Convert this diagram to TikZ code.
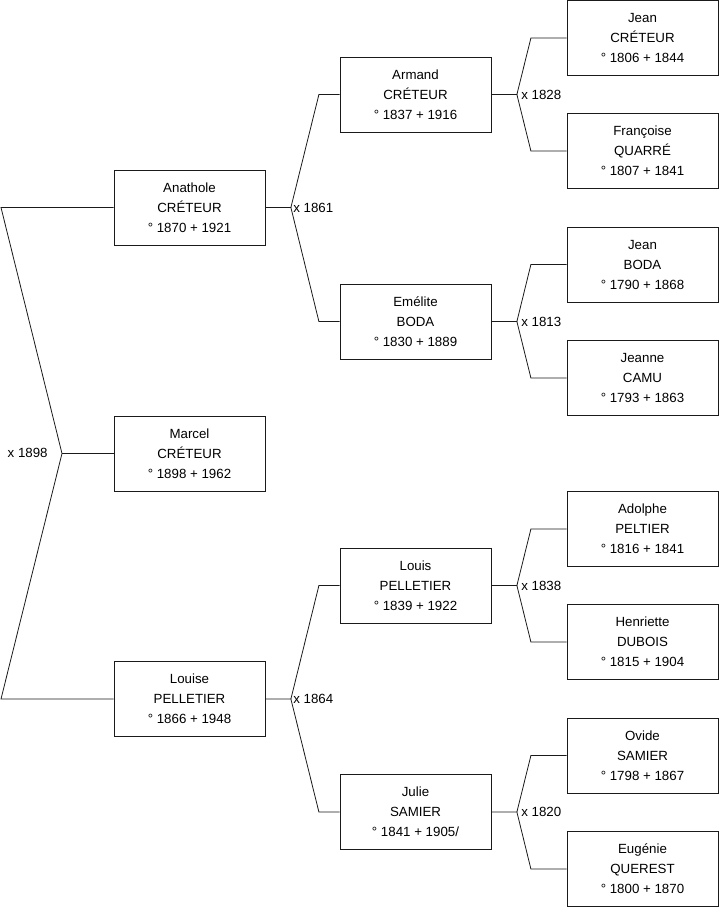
\documentclass[tikz,border=0pt]{standalone}
\usepackage{fontspec}
\setmainfont{Liberation Sans}
\usetikzlibrary{calc}
\definecolor{cline}{HTML}{1A1A1A}
\tikzset{
  every picture/.style={x=1pt, y=-1pt, line width=0.8pt},
  person/.style={draw=cline, align=center, minimum width=151pt, minimum height=75pt, inner sep=0pt, font=\fontsize{13.3}{20}\selectfont},
  link/.style={draw=cline, line width=0.8pt},
  wed/.style={font=\fontsize{13.3}{15}\selectfont, inner sep=2pt},
}

\begin{document}
\begin{tikzpicture}
  \useasboundingbox (0,0) rectangle (719,908);
  % root and parents
  \node[person] (marcel) at (189.5,453.5) {Marcel\\CRÉTEUR\\° 1898 + 1962};
  \node[person] (anathole) at (189.5,207.5) {Anathole\\CRÉTEUR\\° 1870 + 1921};
  \node[person] (louise) at (189.5,699) {Louise\\PELLETIER\\° 1866 + 1948};
  % grandparents
  \node[person] (armand) at (415.5,94.5) {Armand\\CRÉTEUR\\° 1837 + 1916};
  \node[person] (emelite) at (415.5,321.5) {Emélite\\BODA\\° 1830 + 1889};
  \node[person] (louis) at (415.5,585.5) {Louis\\PELLETIER\\° 1839 + 1922};
  \node[person] (julie) at (415.5,812) {Julie\\SAMIER\\° 1841 + 1905/};
  % great-grandparents
  \node[person] (jeanc) at (642.5,38) {Jean\\CRÉTEUR\\° 1806 + 1844};
  \node[person] (francoise) at (642.5,151) {Françoise\\QUARRÉ\\° 1807 + 1841};
  \node[person] (jeanb) at (642.5,264.5) {Jean\\BODA\\° 1790 + 1868};
  \node[person] (jeanne) at (642.5,378) {Jeanne\\CAMU\\° 1793 + 1863};
  \node[person] (adolphe) at (642.5,529) {Adolphe\\PELTIER\\° 1816 + 1841};
  \node[person] (henriette) at (642.5,642) {Henriette\\DUBOIS\\° 1815 + 1904};
  \node[person] (ovide) at (642.5,755.5) {Ovide\\SAMIER\\° 1798 + 1867};
  \node[person] (eugenie) at (642.5,869) {Eugénie\\QUEREST\\° 1800 + 1870};
  % marriage of the parents, drawn on the left
  \coordinate (f0) at (62,453.5);
  \coordinate (f0u) at (1,207.5);
  \coordinate (f0d) at (1,699);
  \draw[link] (anathole.west) -- (f0u) -- (f0) -- (f0d) -- (louise.west);
  \draw[link] (f0) -- (marcel.west);
  \node[wed, anchor=east] (w0) at ($(f0)+(-12,-1)$) {x 1898};
  % marriages further back
  \foreach \p/\u/\d/\yr/\dx/\gap [count=\i] in {anathole/armand/emelite/1861/28/0, armand/jeanc/francoise/1828/14/2,
      emelite/jeanb/jeanne/1813/14/2, louise/louis/julie/1864/28/0,
      louis/adolphe/henriette/1838/14/2, julie/ovide/eugenie/1820/14/2} {
    \draw[link] (\p.east) -- ++(25.5,0) coordinate (fk\i) -- ($(\u.west -| fk\i)+(\dx,0)$) -- (\u.west);
    \draw[link] (fk\i) -- ($(\d.west -| fk\i)+(\dx,0)$) -- (\d.west);
    \node[wed, anchor=west] (w\i) at ($(fk\i)+(\gap,0)$) {x \yr};
  }
\end{tikzpicture}
\end{document}
